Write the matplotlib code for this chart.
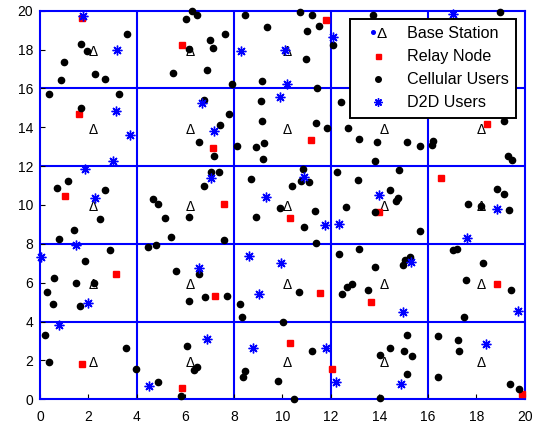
import matplotlib
matplotlib.use("Agg")
import matplotlib.pyplot as plt
from matplotlib.lines import Line2D
from matplotlib.text import Text
from matplotlib.legend_handler import HandlerBase
import numpy as np

plt.rcParams['font.family'] = ['Liberation Sans', 'DejaVu Sans']

# Cell layout: 5 x 5 cells of size 4 over a 20 x 20 area
cell_edges = [0, 4, 8, 12, 16, 20]
bs_centers = [2, 6, 10, 14, 18]
ticks = [0, 2, 4, 6, 8, 10, 12, 14, 16, 18, 20]

# Cellular users
cell_x = [3.59, 1.69, 1.94, 1.00, 2.27, 2.68, 0.87,
          6.27, 6.49, 6.04, 6.13, 5.47, 7.65, 7.01, 7.15, 6.88, 7.93,
          8.44, 10.74, 11.23, 11.52, 11.01, 9.35, 10.97, 9.17, 11.43,
          12.07, 13.75, 19.00,
          0.37, 3.27, 1.69,
          6.77, 7.80, 7.41, 6.55, 7.19,
          9.13, 9.16, 11.39, 11.84, 8.13, 8.90, 9.23, 9.21,
          12.40, 12.72, 13.17, 13.92, 15.13, 15.68, 13.82,
          16.23, 16.16, 19.13, 19.32, 19.46,
          1.14, 0.69, 2.68, 2.48, 1.42, 0.78,
          7.04, 7.37, 6.77, 4.65, 4.88, 5.16, 6.16, 5.39, 7.60,
          8.70, 9.90, 8.90, 10.84, 10.77, 11.11, 10.41, 11.35, 10.88, 11.39,
          12.25, 13.13, 12.62, 14.80, 14.43, 14.76, 14.70, 13.82, 15.66,
          18.85, 19.14, 17.66, 18.18, 19.36,
          2.90, 1.84, 0.59, 1.47, 2.23, 0.28, 0.55, 1.65,
          4.79, 4.47, 5.60, 6.55, 6.81, 7.70, 6.15,
          8.25, 8.35, 10.68,
          12.35, 13.18, 12.45, 12.65, 12.86, 13.82, 14.99, 15.06, 15.26, 13.54,
          17.19, 17.05, 18.29, 17.56, 19.44, 17.50,
          0.22, 3.55, 0.37, 3.96,
          4.88, 5.82, 6.08, 6.35, 6.46,
          10.04, 11.23, 8.46, 8.39, 9.81, 10.47,
          15.13, 14.43, 14.01, 15.03, 15.35, 15.13, 14.05,
          16.42, 17.23, 17.29, 16.42, 19.40, 19.77]
cell_y = [18.82, 18.29, 17.94, 17.36, 16.73, 16.47, 16.42,
          19.99, 19.78, 19.58, 18.05, 16.78, 18.80, 18.51, 18.10, 16.95, 16.24,
          19.80, 19.92, 19.78, 19.22, 18.98, 19.17, 17.52, 16.37, 16.00,
          18.24, 19.78, 19.92,
          15.71, 15.71, 15.01,
          15.39, 14.67, 14.13, 13.26, 12.50,
          15.37, 14.31, 14.20, 13.96, 13.03, 12.97, 13.21, 12.36,
          15.32, 13.96, 13.38, 13.26, 13.26, 13.03, 12.26,
          13.31, 13.07, 14.34, 12.52, 12.31,
          11.21, 10.85, 10.75, 9.29, 8.71, 8.24,
          11.69, 11.69, 10.97, 10.29, 10.05, 9.34, 9.39, 8.35, 8.18,
          11.32, 9.86, 9.39, 11.85, 11.25, 11.20, 10.97, 9.69, 8.86, 8.05,
          11.68, 11.27, 9.91, 11.80, 10.75, 10.34, 10.20, 9.65, 8.66,
          10.80, 10.58, 10.05, 9.93, 9.75,
          7.66, 7.12, 6.25, 5.96, 6.00, 5.50, 4.91, 4.78,
          7.95, 7.83, 6.62, 6.47, 5.27, 5.32, 5.07,
          4.93, 4.24, 5.53,
          7.47, 7.76, 5.44, 5.79, 5.94, 6.80, 6.90, 7.16, 7.30, 5.60,
          7.76, 7.68, 6.99, 6.13, 5.60, 4.24,
          3.33, 2.66, 1.92, 1.56,
          0.91, 0.15, 2.73, 1.52, 1.65,
          3.97, 2.51, 1.44, 1.15, 0.96, 0.00,
          3.33, 2.66, 2.27, 2.46, 2.25, 1.32, 0.07,
          3.25, 3.07, 2.46, 1.17, 0.81, 0.53]

# Relay nodes
relay_x = [1.72, 5.84, 11.80, 1.61, 7.14, 11.19, 18.43, 1.05, 7.60, 10.31, 13.97,
           16.54, 3.12, 7.22, 11.56, 13.64, 18.84, 1.73, 5.86, 10.31, 12.03, 19.90]
relay_y = [19.61, 18.24, 19.51, 14.67, 12.92, 13.35, 14.17, 10.44, 10.06, 9.34, 9.63,
           11.37, 6.47, 5.32, 5.48, 5.01, 5.91, 1.80, 0.58, 2.92, 1.56, 0.27]

# D2D users
d2d_x = [1.79, 3.18, 8.31, 10.12, 12.09, 17.05, 10.19, 9.90, 3.15, 3.72, 6.67,
         7.18, 3.02, 1.87, 2.28, 7.05, 9.34, 10.89, 11.76, 12.32, 13.97, 18.85,
         1.49, 0.03, 6.57, 8.62, 9.94, 15.31, 17.62, 9.03, 1.99, 0.80, 14.96,
         19.73, 4.51, 6.90, 8.80, 11.79, 12.21, 14.89, 18.39]
d2d_y = [19.75, 17.98, 17.94, 18.00, 18.67, 19.83, 16.21, 15.54, 14.85, 13.62, 15.25,
         13.83, 12.26, 11.85, 10.37, 11.40, 10.39, 11.45, 8.98, 9.03, 10.53, 9.81,
         7.95, 7.30, 6.76, 7.37, 6.99, 7.07, 8.30, 5.44, 4.96, 3.80, 4.50,
         4.55, 0.69, 3.09, 2.64, 2.63, 0.91, 0.77, 2.87]

labels = ['Base Station', 'Relay Node', 'Cellular Users', 'D2D Users']

BLUE = (0, 0, 1)
RED = (1, 0, 0)
ASTERISK = (8, 2, 0)

fig = plt.figure(figsize=(5.36, 4.26), dpi=100)
ax = fig.add_axes([0.0746, 0.0627, 0.9043, 0.9122])
ax.set_xlim(0, 20)
ax.set_ylim(0, 20)

# cell boundaries
for e in cell_edges[1:-1]:
    ax.axvline(e, color=BLUE, lw=1.5, zorder=1)
    ax.axhline(e, color=BLUE, lw=1.5, zorder=1)
for s in ax.spines.values():
    s.set_color(BLUE)
    s.set_linewidth(1.5)

# base stations at the centre of every cell
bx, by = np.meshgrid(bs_centers, bs_centers)
for x, y in zip(bx.ravel(), by.ravel()):
    ax.annotate('\u0394', (x, y), xytext=(4.8, -6.5), textcoords='offset pixels',
                ha='center', va='baseline', fontsize=10, color='black', zorder=2)

ax.plot(relay_x, relay_y, ls='none', marker='s', ms=3.8, mfc=RED, mec=RED,
        clip_on=False, zorder=3)
ax.plot(cell_x, cell_y, ls='none', marker='o', ms=4.5, mfc='black', mec='black',
        clip_on=False, zorder=3)
ax.plot(d2d_x, d2d_y, ls='none', marker=ASTERISK, ms=7, mec=BLUE, mew=1.0,
        clip_on=False, zorder=3)

ax.set_xticks(ticks)
ax.set_yticks(ticks)
ax.tick_params(axis='both', direction='in', length=3.5, width=0.8, color='black',
               labelsize=10, top=False, right=False)
ax.tick_params(axis='x', pad=8)
ax.tick_params(axis='y', pad=5)


class BaseStationHandler(HandlerBase):
    def create_artists(self, legend, orig_handle, xdescent, ydescent, width,
                       height, fontsize, trans):
        cx = width / 2 - xdescent
        cy = height / 2 - ydescent
        dot = Line2D([cx - 3.5], [cy], ls='none', marker='o', ms=2.6,
                     mfc=BLUE, mec=BLUE, transform=trans)
        tri = Text(cx + 2.2, cy - 4.0, '\u0394', ha='center', va='baseline',
                   fontsize=11, color='black', transform=trans)
        return [dot, tri]


h_bs = Line2D([], [], ls='none')
h_relay = Line2D([], [], ls='none', marker='s', ms=3.6, mfc=RED, mec=RED)
h_cell = Line2D([], [], ls='none', marker='o', ms=4.0, mfc='black', mec='black')
h_d2d = Line2D([], [], ls='none', marker=ASTERISK, ms=6, mec=BLUE, mew=1.0)

leg = ax.legend([h_bs, h_relay, h_cell, h_d2d], labels,
                handler_map={h_bs: BaseStationHandler()},
                loc='upper right', bbox_to_anchor=(0.982, 0.979),
                borderaxespad=0, fontsize=11.6, frameon=True, fancybox=False,
                framealpha=1, edgecolor='black', borderpad=0.45,
                handlelength=2.65, handletextpad=0.45, labelspacing=0.5)
leg.get_frame().set_linewidth(1.4)
leg.set_zorder(5)

fig.savefig('out.png', dpi=100)
